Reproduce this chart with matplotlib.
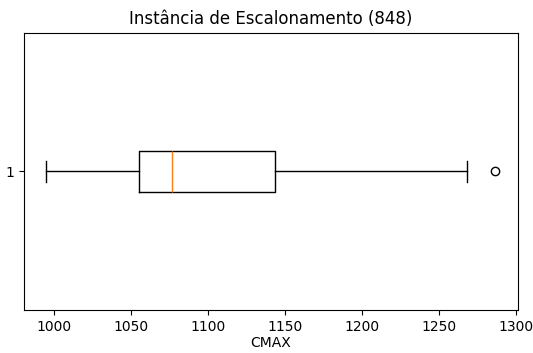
import matplotlib
matplotlib.use("Agg")
import matplotlib.pyplot as plt

# box statistics (CMAX)
labels = ["1"]
whislo = [995.3]
q1 = [1055.6]
med = [1077.1]
q3 = [1144.0]
whishi = [1268.7]
fliers = [[1286.7]]

stats = []
for i in range(len(labels)):
    stats.append({"label": labels[i], "whislo": whislo[i], "q1": q1[i], "med": med[i],
                  "q3": q3[i], "whishi": whishi[i], "fliers": fliers[i]})

fig = plt.figure(figsize=(5.33, 3.53), dpi=100)
ax = fig.add_axes([0.045, 0.122, 0.926, 0.785])
ax.bxp(stats, orientation="horizontal", widths=0.15)
ax.set_ylim(0.5, 1.5)
ax.margins(x=0.05)
ax.autoscale(axis="x")
ax.set_title("Instância de Escalonamento (848)")
ax.set_xlabel("CMAX", labelpad=2)

fig.savefig("out.png", dpi=100)
